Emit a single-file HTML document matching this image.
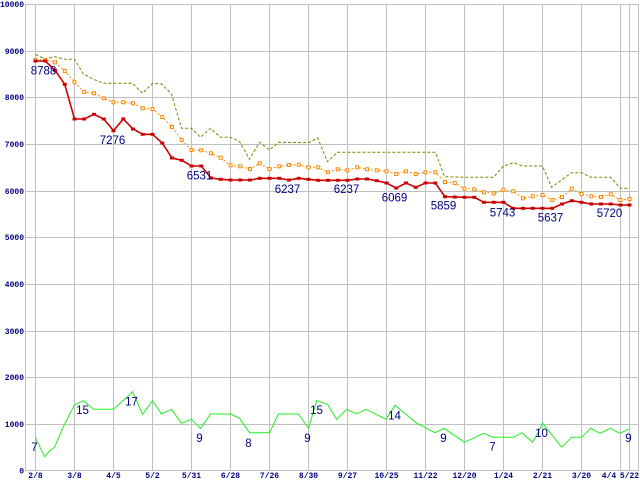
<!DOCTYPE html>
<html><head><meta charset="utf-8"><style>
html,body{margin:0;padding:0;background:#fff;width:640px;height:480px;overflow:hidden}
svg{display:block}
.ax{font-family:"Liberation Mono",monospace;font-weight:bold;font-size:8px;fill:#000080}
.lb{font-family:"Liberation Sans",sans-serif;font-size:11.5px;fill:#000080}
</style></head><body>
<svg width="640" height="480" viewBox="0 0 640 480" xmlns="http://www.w3.org/2000/svg">
<defs>
<marker id="rs" markerUnits="userSpaceOnUse" markerWidth="6" markerHeight="6" refX="3" refY="3"><rect x="1" y="1.5" width="4" height="3" fill="#cc0000"/></marker>
<marker id="os" markerUnits="userSpaceOnUse" markerWidth="6" markerHeight="6" refX="3" refY="3"><rect x="1.5" y="1.5" width="3" height="3" fill="#fff" stroke="#ff8800" stroke-width="1"/></marker>
</defs>
<g stroke="#c0c0c0" stroke-width="1" shape-rendering="crispEdges">
<line x1="25" y1="4.5" x2="639" y2="4.5"/>
<line x1="25" y1="51.5" x2="639" y2="51.5"/>
<line x1="25" y1="97.5" x2="639" y2="97.5"/>
<line x1="25" y1="144.5" x2="639" y2="144.5"/>
<line x1="25" y1="191.5" x2="639" y2="191.5"/>
<line x1="25" y1="237.5" x2="639" y2="237.5"/>
<line x1="25" y1="284.5" x2="639" y2="284.5"/>
<line x1="25" y1="331.5" x2="639" y2="331.5"/>
<line x1="25" y1="377.5" x2="639" y2="377.5"/>
<line x1="25" y1="424.5" x2="639" y2="424.5"/>
<line x1="25" y1="470.5" x2="639" y2="470.5"/>
<line x1="25.5" y1="4" x2="25.5" y2="471"/>
<line x1="35.5" y1="4" x2="35.5" y2="471"/>
<line x1="74.5" y1="4" x2="74.5" y2="471"/>
<line x1="113.5" y1="4" x2="113.5" y2="471"/>
<line x1="152.5" y1="4" x2="152.5" y2="471"/>
<line x1="191.5" y1="4" x2="191.5" y2="471"/>
<line x1="230.5" y1="4" x2="230.5" y2="471"/>
<line x1="269.5" y1="4" x2="269.5" y2="471"/>
<line x1="308.5" y1="4" x2="308.5" y2="471"/>
<line x1="347.5" y1="4" x2="347.5" y2="471"/>
<line x1="386.5" y1="4" x2="386.5" y2="471"/>
<line x1="425.5" y1="4" x2="425.5" y2="471"/>
<line x1="464.5" y1="4" x2="464.5" y2="471"/>
<line x1="503.5" y1="4" x2="503.5" y2="471"/>
<line x1="542.5" y1="4" x2="542.5" y2="471"/>
<line x1="581.5" y1="4" x2="581.5" y2="471"/>
<line x1="620.5" y1="4" x2="620.5" y2="471"/>
<line x1="629.5" y1="4" x2="629.5" y2="471"/>
<line x1="638.5" y1="4" x2="638.5" y2="471"/>
</g>
<g class="ax" text-anchor="end">
<text x="24" y="7">10000</text>
<text x="24" y="54">9000</text>
<text x="24" y="100">8000</text>
<text x="24" y="147">7000</text>
<text x="24" y="194">6000</text>
<text x="24" y="240">5000</text>
<text x="24" y="287">4000</text>
<text x="24" y="334">3000</text>
<text x="24" y="380">2000</text>
<text x="24" y="427">1000</text>
<text x="24" y="473.5">0</text>
</g>
<g class="ax" text-anchor="middle">
<text x="35.5" y="478">2/8</text>
<text x="74.5" y="478">3/8</text>
<text x="113.5" y="478">4/5</text>
<text x="152.5" y="478">5/2</text>
<text x="191.5" y="478">5/31</text>
<text x="230.5" y="478">6/28</text>
<text x="269.5" y="478">7/26</text>
<text x="308.5" y="478">8/30</text>
<text x="347.5" y="478">9/27</text>
<text x="386.5" y="478">10/25</text>
<text x="425.5" y="478">11/22</text>
<text x="464.5" y="478">12/20</text>
<text x="503.5" y="478">1/24</text>
<text x="542.5" y="478">2/21</text>
<text x="581.5" y="478">3/20</text>
<text x="609" y="478">4/4</text>
<text x="629.5" y="478">5/22</text>
</g>
<polyline fill="none" stroke="#808000" stroke-width="1" stroke-dasharray="3,2" points="35.5,54.3 44.5,59 54.5,56.7 64.5,59.3 74.5,59.3 83.5,74 93.5,79.3 103.5,83.3 132.5,83.3 142.5,93.3 152.5,83.3 161.7,84 171.5,94 181.5,128.3 191.5,128.3 200.5,137.3 210.5,128.3 220.5,137.3 230.5,137.3 239.7,141.7 249.5,159.3 259.5,142.3 269.5,150 278.7,142.3 308.5,142.7 317.7,138 327.5,161.7 337.5,152.3 435.5,152.3 444.5,176.7 464.5,177.3 493.7,177.3 503.5,166 513.5,162.7 522.7,166 542.5,166 551.7,187.3 561.5,180 571.5,172.7 581.7,172.7 590.7,177.3 610.5,177.3 620.5,188.3 629.5,188.3"/>
<polyline fill="none" stroke="#ff8800" stroke-width="1" stroke-dasharray="2,2" marker-start="url(#os)" marker-mid="url(#os)" marker-end="url(#os)" points="35.5,60 45.25,60 55,62.3 64.75,71 74.5,82.3 84.25,92 94,93.3 103.75,98.3 113.5,102.3 123.25,102.3 133,103.3 142.75,108.3 152.5,109 162.25,117 172,127 181.75,140 191.5,150 201.25,150.3 211,153.3 220.75,157.7 230.5,165.3 240.25,166.3 250,169 259.75,163.3 269.5,169 279.25,166.3 289,165 298.75,164.7 308.5,167.3 318.25,167.3 328,172.3 337.75,169.3 347.5,170.3 357.25,167.3 367,169.3 376.75,170.3 386.5,171.3 396.25,174 406,171.3 415.75,174 425.5,172.3 435.25,172.3 445,182 454.75,183 464.5,188.7 474.25,189.3 484,192.3 493.75,193.3 503.5,189.7 513.25,191.3 523,198.3 532.75,196.3 542.5,195 552.25,200 562,197 571.75,188.7 581.5,194 591.25,196.3 601,197 610.75,194.3 620.5,200 629.5,199"/>
<polyline fill="none" stroke="#cc0000" stroke-width="1.6" marker-start="url(#rs)" marker-mid="url(#rs)" marker-end="url(#rs)" points="35.5,61 45.25,61 55,70.3 64.75,84.3 74.5,119 84.25,119 94,114.3 103.75,119 113.5,130.7 123.25,119 133,129 142.75,134.3 152.5,134.3 162.25,143 172,158 181.75,160.3 191.5,166 201.25,166 211,178 220.75,179.3 230.5,180 240.25,180 250,180 259.75,178.3 269.5,178.3 279.25,178.3 289,180 298.75,178.3 308.5,179.3 318.25,180.3 328,180.3 337.75,180.3 347.5,180.3 357.25,179 367,179 376.75,180.7 386.5,183 396.25,188 406,183 415.75,187.3 425.5,183 435.25,183 445,196.7 454.75,197 464.5,197.3 474.25,197.3 484,202.3 493.75,202.3 503.5,202.3 513.25,208.3 523,208.3 532.75,208.3 542.5,208.3 552.25,208.3 562,204 571.75,200.7 581.5,202.3 591.25,204 601,204 610.75,204 620.5,205 629.5,205"/>
<polyline fill="none" stroke="#22ee22" stroke-width="1" points="35.5,437.7 44.5,456.7 49.5,451 54.5,447.3 64.5,424.3 74.5,404.7 83.5,400.7 93.5,409.3 113.5,409.3 132.7,391.7 142.5,414.3 152.5,400.7 161.5,414 171.5,409.3 181.5,423.3 191.5,419.3 200.5,428.3 210.5,414 230.7,414 239.5,418.3 249.5,432.7 269.5,432.7 278.5,414 298.5,414 308.5,428.3 316.7,400.7 327.5,404.3 336.7,419.3 346.7,409.3 356.7,414 366,409.3 386,419.3 395,405.3 416.7,423.3 435,432.7 444,428.3 464.5,442.3 483.5,433.3 493.5,437.3 513.5,437.3 521.7,432.7 532.7,442.3 542.7,423.3 561.7,447.3 571.7,437.3 581.7,437.3 590.7,428.3 600,433.3 610,428.3 620,433.3 629.5,428.7"/>
<g class="lb" text-anchor="middle">
<text x="43.5" y="74.5">8788</text>
<text x="112.5" y="144">7276</text>
<text x="199.5" y="179.5">6531</text>
<text x="287.5" y="193">6237</text>
<text x="346.5" y="193">6237</text>
<text x="394.5" y="201.5">6069</text>
<text x="443.5" y="209.5">5859</text>
<text x="502.5" y="216.5">5743</text>
<text x="550.5" y="221.5">5637</text>
<text x="609.5" y="217">5720</text>
<text x="34.5" y="451">7</text>
<text x="82.5" y="414">15</text>
<text x="131.5" y="405.5">17</text>
<text x="199.5" y="442">9</text>
<text x="248.5" y="447">8</text>
<text x="307.5" y="442">9</text>
<text x="316.5" y="414">15</text>
<text x="394.5" y="419.5">14</text>
<text x="443.5" y="442">9</text>
<text x="492.5" y="450.5">7</text>
<text x="541.5" y="437">10</text>
<text x="628.5" y="442">9</text>
</g>
</svg>
</body></html>
